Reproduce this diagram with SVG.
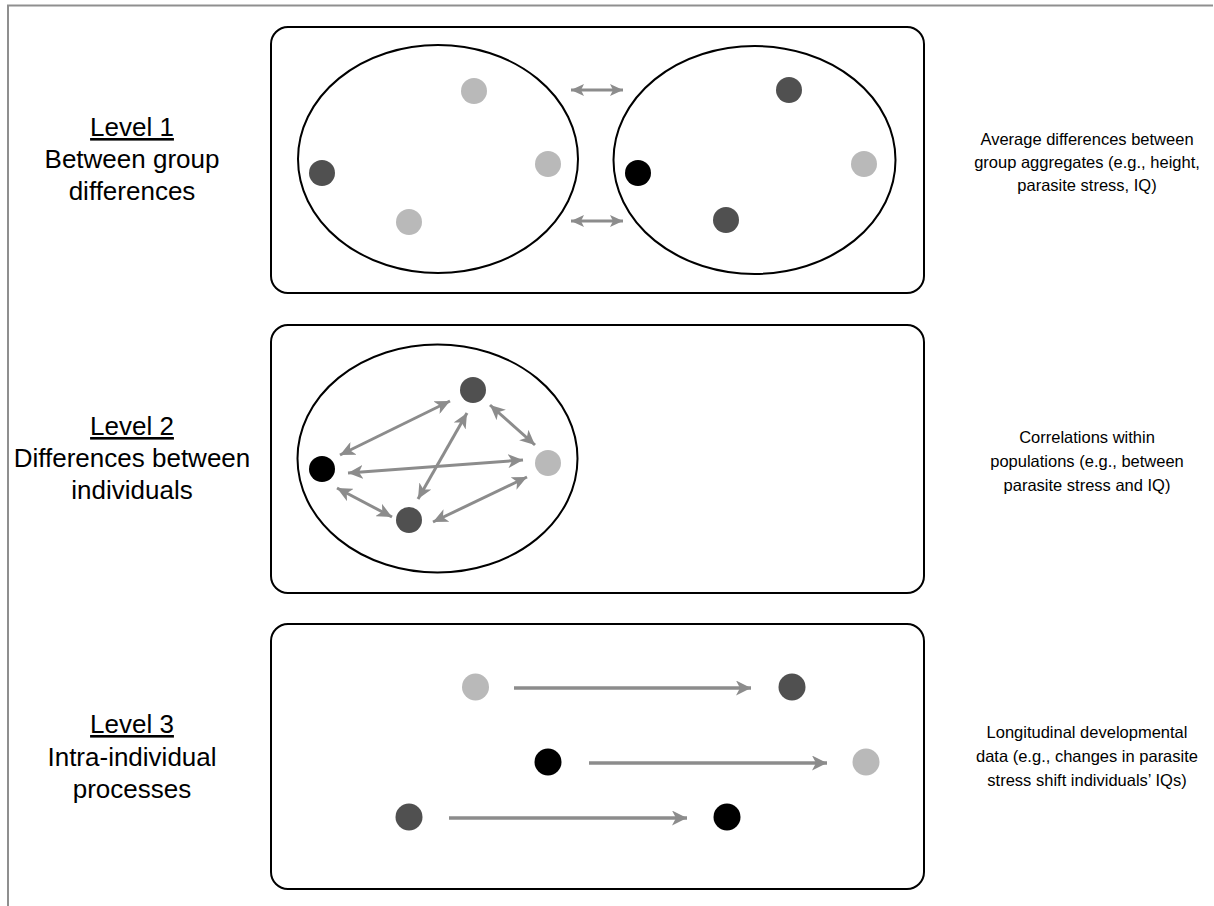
<svg xmlns="http://www.w3.org/2000/svg" width="1214" height="906" viewBox="0 0 1214 906">
<style>
.panel{fill:#fff;stroke:#000;stroke-width:2}
.ell{fill:none;stroke:#000;stroke-width:2}
.lt{fill:#b9b9b9}
.dk{fill:#505050}
.bk{fill:#000}
.lab{font-family:"Liberation Sans",Arial,sans-serif;font-size:26px;fill:#000;text-anchor:middle}
.ul{text-decoration:underline}
.desc{font-family:"Liberation Sans",Arial,sans-serif;font-size:16.5px;fill:#000;text-anchor:middle}
.a1{stroke:#8c8c8c;stroke-width:3;fill:none;marker-start:url(#hs);marker-end:url(#he)}
.a2{stroke:#8c8c8c;stroke-width:3;fill:none;marker-start:url(#hs2);marker-end:url(#he2)}
.a3{stroke:#8c8c8c;stroke-width:3.5;fill:none;marker-end:url(#he3)}
</style>
<defs>
<marker id="he" markerUnits="userSpaceOnUse" markerWidth="14" markerHeight="12" refX="13" refY="6" orient="auto"><path d="M0,0 L13,6 L0,12 L3,6 z" fill="#8c8c8c"/></marker>
<marker id="hs" markerUnits="userSpaceOnUse" markerWidth="14" markerHeight="12" refX="13" refY="6" orient="auto-start-reverse"><path d="M0,0 L13,6 L0,12 L3,6 z" fill="#8c8c8c"/></marker>
<marker id="he2" markerUnits="userSpaceOnUse" markerWidth="16" markerHeight="14" refX="15" refY="7" orient="auto"><path d="M0,0 L15,7 L0,14 L4,7 z" fill="#8c8c8c"/></marker>
<marker id="hs2" markerUnits="userSpaceOnUse" markerWidth="16" markerHeight="14" refX="15" refY="7" orient="auto-start-reverse"><path d="M0,0 L15,7 L0,14 L4,7 z" fill="#8c8c8c"/></marker>
<marker id="he3" markerUnits="userSpaceOnUse" markerWidth="16" markerHeight="15" refX="15" refY="7.5" orient="auto"><path d="M0,0 L15,7.5 L0,15 L4,7.5 z" fill="#8c8c8c"/></marker>
</defs>
<rect width="1214" height="906" fill="#fff"/>
<g id="frame" stroke="#8f8f8f" stroke-width="2" fill="none">
<line x1="7" y1="5.5" x2="1213" y2="5.5"/>
<line x1="8" y1="5" x2="8" y2="906"/>
</g>

<g id="level1">
<rect class="panel" x="271" y="27" width="653" height="266" rx="17"/>
<ellipse class="ell" cx="438" cy="159" rx="140" ry="114"/>
<ellipse class="ell" cx="754.5" cy="160" rx="141" ry="114"/>
<circle class="lt" cx="474" cy="91" r="13"/>
<circle class="lt" cx="548" cy="164" r="13"/>
<circle class="dk" cx="322" cy="173" r="13"/>
<circle class="lt" cx="409" cy="222" r="13"/>
<circle class="dk" cx="789" cy="90" r="13"/>
<circle class="lt" cx="864" cy="164" r="13"/>
<circle class="bk" cx="638" cy="173" r="13"/>
<circle class="dk" cx="726" cy="220" r="13"/>
</g>
<g id="label1">
<text class="lab ul" x="132" y="136">Level 1</text>
<text class="lab" x="132" y="168">Between group</text>
<text class="lab" x="132" y="200">differences</text>
</g>
<g id="desc1">
<text class="desc" x="1087" y="145">Average differences between</text>
<text class="desc" x="1087" y="168">group aggregates (e.g., height,</text>
<text class="desc" x="1087" y="191">parasite stress, IQ)</text>
</g>

<g id="level2">
<rect class="panel" x="271" y="325" width="653" height="268" rx="17"/>
<ellipse class="ell" cx="437.5" cy="458.5" rx="140" ry="114"/>
<circle class="dk" cx="473" cy="390" r="13"/>
<circle class="bk" cx="322" cy="469" r="13"/>
<circle class="lt" cx="548" cy="463" r="13"/>
<circle class="dk" cx="409" cy="520" r="13"/>
</g>
<g id="label2">
<text class="lab ul" x="132" y="435">Level 2</text>
<text class="lab" x="132" y="467">Differences between</text>
<text class="lab" x="132" y="499">individuals</text>
</g>
<g id="desc2">
<text class="desc" x="1087" y="443">Correlations within</text>
<text class="desc" x="1087" y="467">populations (e.g., between</text>
<text class="desc" x="1087" y="491">parasite stress and IQ)</text>
</g>

<g id="level3">
<rect class="panel" x="271" y="624" width="653" height="265" rx="17"/>
<circle class="lt" cx="475.5" cy="687" r="13.5"/>
<circle class="dk" cx="792" cy="687" r="13.5"/>
<circle class="bk" cx="548" cy="762" r="13.5"/>
<circle class="lt" cx="866" cy="762" r="13.5"/>
<circle class="dk" cx="409" cy="817" r="13.5"/>
<circle class="bk" cx="727" cy="817" r="13.5"/>
</g>
<g id="label3">
<text class="lab ul" x="132" y="733">Level 3</text>
<text class="lab" x="132" y="766">Intra-individual</text>
<text class="lab" x="132" y="798">processes</text>
</g>
<g id="desc3">
<text class="desc" x="1087" y="738">Longitudinal developmental</text>
<text class="desc" x="1087" y="762">data (e.g., changes in parasite</text>
<text class="desc" x="1087" y="786">stress shift individuals’ IQs)</text>
</g>

<g id="connectors">
<line class="a1" x1="571" y1="90" x2="623" y2="90"/>
<line class="a1" x1="571" y1="221" x2="623" y2="221"/>
<line class="a2" x1="340" y1="455" x2="450" y2="401"/>
<line class="a2" x1="490" y1="405" x2="535" y2="445"/>
<line class="a2" x1="348" y1="473" x2="523" y2="460"/>
<line class="a2" x1="467" y1="413" x2="418" y2="499"/>
<line class="a2" x1="337" y1="488" x2="392" y2="517"/>
<line class="a2" x1="433" y1="522" x2="527" y2="477"/>
<line class="a3" x1="514" y1="688" x2="751" y2="688"/>
<line class="a3" x1="589" y1="763" x2="827" y2="763"/>
<line class="a3" x1="449" y1="818" x2="687" y2="818"/>
</g>
</svg>
